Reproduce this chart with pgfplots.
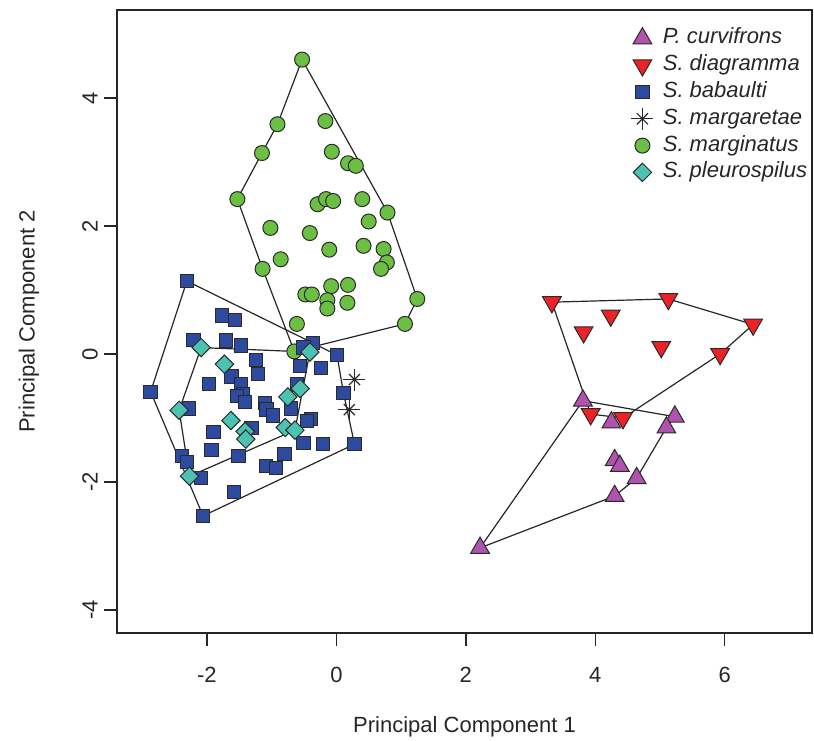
\documentclass[border=0pt]{standalone}
\usepackage{fontspec}
\setmainfont{Liberation Sans}
\usepackage{pgfplots}
\pgfplotsset{compat=1.18}
\definecolor{cpur}{HTML}{B052AE}
\definecolor{cred}{HTML}{EC2227}
\definecolor{cblu}{HTML}{2E4A9F}
\definecolor{cgrn}{HTML}{6BBF43}
\definecolor{ccyn}{HTML}{4CC2B0}
\definecolor{edge}{HTML}{2A2A2A}
\pgfplotsset{
  legmark/.style={legend image code/.code={%
     \path[draw=none,fill=none] (-5.5pt,-5.5pt) rectangle (5.5pt,5.5pt);
     \draw[##1] plot[only marks] coordinates {(0pt,0pt)};}},
  legast/.style={legend image code/.code={%
     \path[draw=none,fill=none] (-5.5pt,-5.5pt) rectangle (5.5pt,5.5pt);
     \draw[edge,line width=0.6pt] plot[only marks, mark=+, mark size=5.5pt] coordinates {(0pt,0pt)};
     \draw[edge,line width=0.6pt] plot[only marks, mark=x, mark size=3.9pt] coordinates {(0pt,0pt)};}},
  hull/.style={draw=black!85, line width=0.6pt, mark=none, forget plot},
}
\begin{document}
\begin{tikzpicture}
\useasboundingbox (-58.5pt,-53.5pt) rectangle (348.5pt,316.5pt);
\begin{axis}[
  at={(0,0)}, anchor=south west,
  scale only axis, width=347.5pt, height=311.5pt,
  xmin=-3.39, xmax=7.35, ymin=-4.36, ymax=5.375,
  axis line style={black!85, line width=0.7pt},
  tick style={black!85, line width=0.7pt},
  tick align=outside, tick pos=left, major tick length=6.5pt,
  xtick={-2,0,2,4,6}, xticklabels={-2,0,2,4,6},
  ytick={-4,-2,0,2,4}, yticklabels={-4,-2,0,2,4},
  ticklabel style={font=\fontsize{11}{13}\selectfont, text=black!85},
  xticklabel style={anchor=center, yshift=-14.5pt},
  yticklabel style={anchor=center, xshift=-7pt, rotate=90},
  label style={font=\fontsize{11}{13}\selectfont, text=black!85},
  xlabel={Principal Component 1},
  ylabel={Principal Component 2},
  xlabel style={at={(axis description cs:0.5,-0.1509)}, anchor=center},
  ylabel style={at={(axis description cs:-0.1266,0.5)}, anchor=center},
  legend style={draw=none, fill=none, inner sep=0pt,
     at={(axis description cs:0.7396,0.9735)}, anchor=north west,
     font=\fontsize{11}{12}\itshape, row sep=1.9pt, column sep=4.2pt,
     nodes={inner sep=0.5pt, text height=8pt, text depth=2.5pt, text=black!85}},
  legend cell align=left,
]
% legend images
\addlegendimage{legmark, only marks, mark=triangle*, mark size=5.4pt, mark options={fill=cpur, draw=edge, line width=0.5pt}}
\addlegendimage{legmark, only marks, mark=triangle*, mark size=5.4pt, mark options={rotate=180, fill=cred, draw=edge, line width=0.5pt}}
\addlegendimage{legmark, only marks, mark=square*, mark size=3.35pt, mark options={fill=cblu, draw=edge, line width=0.5pt}}
\addlegendimage{legast}
\addlegendimage{legmark, only marks, mark=*, mark size=3.75pt, mark options={fill=cgrn, draw=edge, line width=0.5pt}}
\addlegendimage{legmark, only marks, mark=square*, mark size=3.25pt, mark options={rotate=45, fill=ccyn, draw=edge, line width=0.5pt}}
\legend{P. curvifrons, S. diagramma, S. babaulti, S. margaretae, S. marginatus, S. pleurospilus}

% P. curvifrons
\addplot[only marks, forget plot, mark=triangle*, mark size=5.4pt, mark options={fill=cpur, draw=edge, line width=0.5pt}] coordinates {
(3.81,-0.73) (4.25,-1.07) (5.23,-0.98) (5.10,-1.15) (4.30,-1.66) (4.38,-1.75)
(4.64,-1.94) (4.30,-2.22) (2.22,-3.03)
};
% S. diagramma
\addplot[only marks, forget plot, mark=triangle*, mark size=5.4pt, mark options={rotate=180, fill=cred, draw=edge, line width=0.5pt}] coordinates {
(3.33,0.81) (5.13,0.86) (6.44,0.46) (5.93,0.00) (4.24,0.60) (3.82,0.34)
(5.02,0.11) (3.93,-0.94) (4.43,-1.00)
};
% S. marginatus
\addplot[only marks, forget plot, mark=*, mark size=3.75pt, mark options={fill=cgrn, draw=edge, line width=0.5pt}] coordinates {
(-0.53,4.60) (-0.91,3.59) (-0.17,3.64) (-1.15,3.14) (-0.07,3.16) (0.18,2.98)
(0.30,2.94) (-1.53,2.42) (-0.29,2.34) (-0.16,2.42) (-0.05,2.39) (0.40,2.42)
(0.79,2.21) (0.50,2.07) (-1.02,1.97) (-0.41,1.89) (-0.11,1.63) (0.42,1.69)
(0.73,1.64) (0.78,1.43) (0.69,1.33) (-0.86,1.48) (-1.14,1.33) (-0.48,0.93)
(-0.38,0.93) (-0.08,1.06) (0.18,1.08) (-0.14,0.84) (-0.14,0.71) (0.17,0.80)
(1.25,0.86) (1.06,0.47) (-0.61,0.47) (-0.65,0.04)
};
% S. babaulti
\addplot[only marks, forget plot, mark=square*, mark size=3.35pt, mark options={fill=cblu, draw=edge, line width=0.5pt}] coordinates {
(-2.31,1.14) (-1.77,0.60) (-1.57,0.53) (-2.21,0.22) (-1.71,0.21) (-1.47,0.13)
(-0.36,0.17) (-0.51,0.10) (0.01,-0.02) (-1.24,-0.09) (-1.21,-0.31) (-1.62,-0.35)
(-0.56,-0.19) (-0.24,-0.22) (-1.97,-0.47) (-1.47,-0.48) (-2.87,-0.59) (-1.44,-0.63)
(-1.54,-0.66) (-1.41,-0.75) (0.11,-0.61) (-0.61,-0.48) (-1.10,-0.77) (-1.08,-0.87)
(-0.98,-0.96) (-0.70,-0.85) (-2.28,-0.85) (-0.39,-1.02) (-0.45,-1.05) (-1.31,-1.16)
(-1.90,-1.22) (-0.51,-1.39) (-0.21,-1.41) (0.28,-1.41) (-1.93,-1.50) (-1.51,-1.59)
(-0.80,-1.56) (-2.39,-1.59) (-2.31,-1.69) (-1.09,-1.75) (-0.93,-1.78) (-2.09,-1.94)
(-1.58,-2.16) (-2.06,-2.53)
};
% S. margaretae
\addplot[only marks, forget plot, mark=+, mark size=5.5pt, draw=edge, line width=0.6pt] coordinates {(0.28,-0.40) (0.20,-0.87)};
\addplot[only marks, forget plot, mark=x, mark size=3.9pt, draw=edge, line width=0.6pt] coordinates {(0.28,-0.40) (0.20,-0.87)};
% S. pleurospilus
\addplot[only marks, forget plot, mark=square*, mark size=3.25pt, mark options={rotate=45, fill=ccyn, draw=edge, line width=0.5pt}] coordinates {
(-2.09,0.10) (-1.73,-0.16) (-0.41,0.03) (-0.56,-0.54) (-0.75,-0.67) (-2.43,-0.88)
(-1.63,-1.04) (-1.41,-1.21) (-1.40,-1.33) (-0.79,-1.15) (-0.64,-1.19) (-2.27,-1.91)
};

% convex hulls
\addplot[hull] coordinates {(3.81,-0.73) (5.23,-0.98) (5.10,-1.15) (4.64,-1.94) (4.30,-2.22) (2.22,-3.03) (3.81,-0.73)};
\addplot[hull] coordinates {(3.33,0.81) (5.13,0.86) (6.44,0.46) (5.93,0.00) (4.43,-1.00) (3.93,-0.94) (3.33,0.81)};
\addplot[hull] coordinates {(-0.53,4.60) (0.79,2.21) (1.25,0.86) (1.06,0.47) (-0.65,0.04) (-1.14,1.33) (-1.53,2.42) (-1.15,3.14) (-0.91,3.59) (-0.53,4.60)};
\addplot[hull] coordinates {(-2.31,1.14) (-0.36,0.17) (0.01,-0.02) (0.11,-0.61) (0.28,-1.41) (-2.06,-2.53) (-2.87,-0.59) (-2.31,1.14)};
\addplot[hull] coordinates {(-2.09,0.10) (-0.41,0.03) (-0.64,-1.19) (-2.27,-1.91) (-2.43,-0.88) (-2.09,0.10)};
\end{axis}
\end{tikzpicture}
\end{document}
